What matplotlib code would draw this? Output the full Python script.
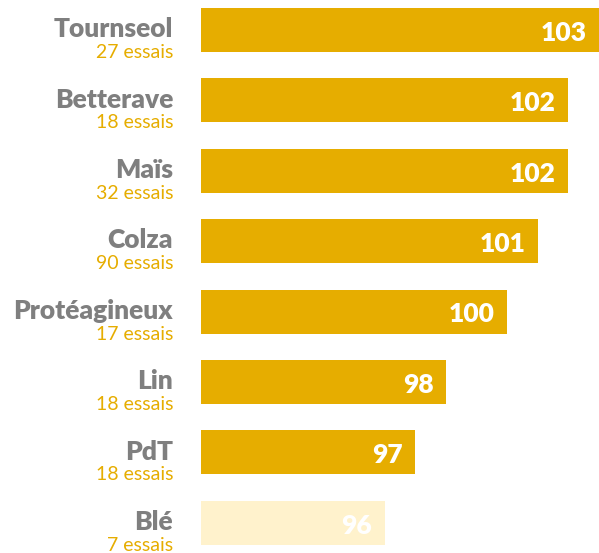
import matplotlib
matplotlib.use('Agg')
import matplotlib.pyplot as plt

# ── Data ──────────────────────────────────────────────────────────────────────
cultures = ['Tournseol', 'Betterave', 'Maïs', 'Colza', 'Protéagineux', 'Lin', 'PdT', 'Blé']
essais   = [27, 18, 32, 90, 17, 18, 18, 7]
indices  = [103, 102, 102, 101, 100, 98, 97, 96]

GOLD  = '#E6AD00'
PALE  = '#FFF2CC'
GREY  = '#7F7F7F'

plt.rcParams['font.family'] = ['Lato', 'DejaVu Sans']

fig = plt.figure(figsize=(5.99, 5.53), dpi=100)
ax = fig.add_axes([201 / 599, 0, 398 / 599, 1])

colors = [GOLD] * (len(cultures) - 1) + [PALE]
ypos = list(range(len(cultures)))
ax.barh(ypos, [v - 90 for v in indices], left=90, height=0.625, color=colors)

ax.set_xlim(90, 103)
ax.set_ylim(7.43, -0.426)
ax.axis('off')

for y, name, n, v in zip(ypos, cultures, essais, indices):
    ax.text(-0.07, y - 0.01, name, transform=ax.get_yaxis_transform(),
            ha='right', va='center', fontsize=19, fontweight='heavy', color=GREY)
    ax.text(-0.07, y + 0.32, f'{n} essais', transform=ax.get_yaxis_transform(),
            ha='right', va='center', fontsize=14, color=GOLD)
    ax.annotate(str(v), xy=(v, y), xytext=(-9, -2), textcoords='offset points',
                ha='right', va='center', fontsize=19, fontweight='heavy', color='white')

fig.savefig('out.png', dpi=100)
